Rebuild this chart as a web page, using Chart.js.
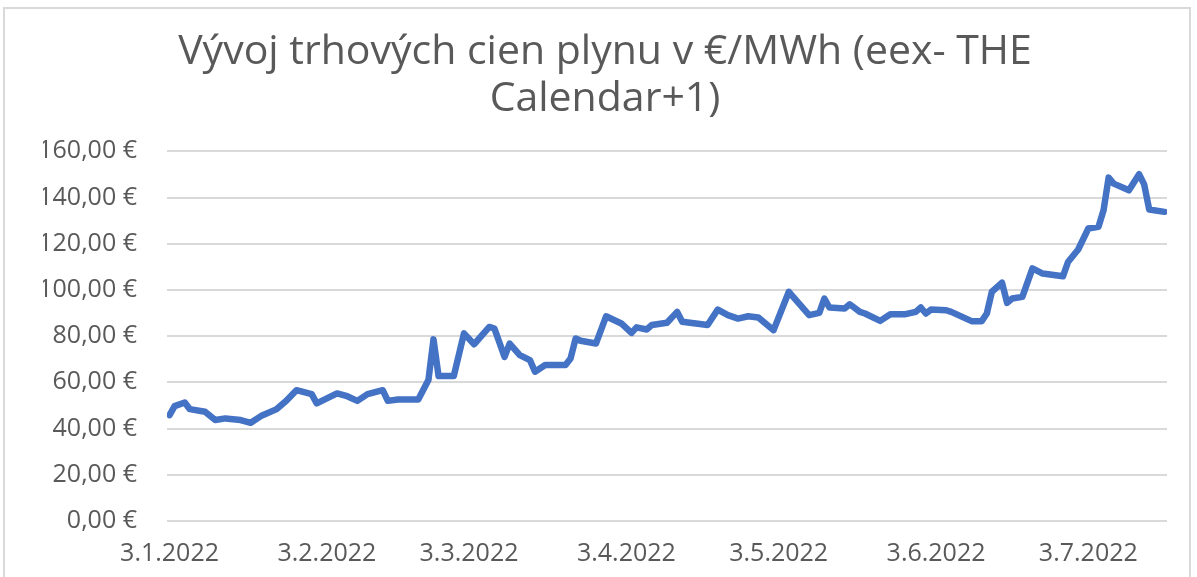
<!DOCTYPE html>
<html>
<head>
<meta charset="utf-8">
<script src="https://cdn.jsdelivr.net/npm/chart.js@4"></script>
<style>
  html, body { margin: 0; padding: 0; background: #fff; overflow: hidden; }
  .frame { position: absolute; left: 3px; top: 7px; width: 1188px; height: 600px; border: 2px solid #d9d9d9; box-sizing: border-box; }
  canvas { position: absolute; left: 0; top: 0; }
</style>
</head>
<body>
<div class="frame"></div>
<canvas class="price-chart" width="1197" height="577"></canvas>
<script>
// days counted from 3.1.2022
const days = [0, 1, 3, 4, 7, 9, 11, 14, 16, 18, 21, 23, 25, 28, 29, 33, 35, 37, 39, 42, 43, 45, 49, 51, 52, 53, 56, 58, 60, 63, 64, 66, 67, 69, 71, 72, 74, 78, 79, 80, 81, 84, 86, 89, 91, 92, 94, 95, 98, 100, 101, 106, 108, 110, 112, 114, 116, 119, 122, 126, 128, 129, 130, 133, 134, 136, 137, 140, 142, 145, 147, 148, 149, 150, 153, 154, 158, 160, 161, 162, 164, 165, 166, 168, 170, 172, 176, 177, 179, 181, 183, 184, 185, 186, 189, 191, 192, 193, 196];
const prices = [45.8, 49.7, 51.3, 48.4, 47.3, 43.7, 44.4, 43.7, 42.5, 45.4, 48.3, 52.0, 56.6, 54.9, 50.9, 55.2, 54.0, 52.0, 54.9, 56.6, 52.0, 52.6, 52.6, 61.0, 78.6, 62.7, 62.7, 81.2, 76.5, 84.0, 83.3, 71.0, 76.8, 71.8, 69.6, 64.6, 67.5, 67.5, 70.3, 79.0, 78.0, 76.8, 88.6, 85.5, 81.4, 83.8, 82.9, 84.8, 85.8, 90.5, 86.2, 84.8, 91.5, 89.1, 87.6, 88.6, 88.1, 82.6, 99.2, 89.1, 90.1, 96.3, 92.4, 92.0, 93.8, 90.5, 89.8, 86.6, 89.5, 89.5, 90.5, 92.4, 89.8, 91.5, 91.2, 90.5, 86.5, 86.5, 89.8, 99.2, 103.1, 94.4, 96.3, 97.0, 109.3, 107.1, 105.9, 112.1, 117.5, 126.6, 127.3, 134.5, 148.6, 146.0, 143.1, 150.1, 145.7, 134.8, 133.8];

const monthTicks = [0, 31, 59, 90, 120, 151, 181];
const monthLabels = ['3.1.2022', '3.2.2022', '3.3.2022', '3.4.2022', '3.5.2022', '3.6.2022', '3.7.2022'];
const titleLines = ['Vývoj trhových cien plynu v €/MWh (eex- THE', 'Calendar+1)'];

const textColor = '#595959';
const ctx = document.querySelector('.price-chart');

new Chart(ctx, {
    type: 'line',
    data: {
        datasets: [{
            data: days.map((d, i) => ({ x: d, y: prices[i] })),
            borderColor: '#4472C4',
            borderWidth: 6.5,
            pointRadius: 0,
            tension: 0,
            borderJoinStyle: 'round',
            borderCapStyle: 'round',
            fill: false
        }]
    },
    options: {
        responsive: false,
        animation: false,
        devicePixelRatio: 1,
        layout: {
            padding: { left: 43, right: 30, top: 0, bottom: 0 }
        },
        plugins: {
            legend: { display: false },
            tooltip: { enabled: false },
            title: {
                display: true,
                text: titleLines,
                color: textColor,
                font: { family: 'Open Sans', size: 41, weight: 'normal', lineHeight: 1.15 },
                padding: { top: 29, bottom: 28 }
            }
        },
        scales: {
            x: {
                type: 'linear',
                min: -0.5,
                max: 196.5,
                grid: { display: false, drawTicks: false },
                border: { display: false },
                afterBuildTicks: (scale) => {
                    scale.ticks = monthTicks.map(v => ({ value: v }));
                },
                afterFit: (scale) => { scale.height = 56; },
                ticks: {
                    autoSkip: false,
                    maxRotation: 0,
                    padding: 18,
                    color: textColor,
                    font: { family: 'Open Sans', size: 25 },
                    callback: (v, i) => monthLabels[i]
                }
            },
            y: {
                min: 0,
                max: 160,
                grid: { color: '#d9d9d9', lineWidth: 2, drawTicks: false },
                border: { display: false },
                afterFit: (scale) => { scale.width = 124; },
                ticks: {
                    stepSize: 20,
                    padding: 30,
                    color: textColor,
                    font: { family: 'Open Sans', size: 25 },
                    callback: (v) => v.toFixed(2).replace('.', ',') + '\u00a0€'
                }
            }
        }
    }
});
</script>
</body>
</html>
